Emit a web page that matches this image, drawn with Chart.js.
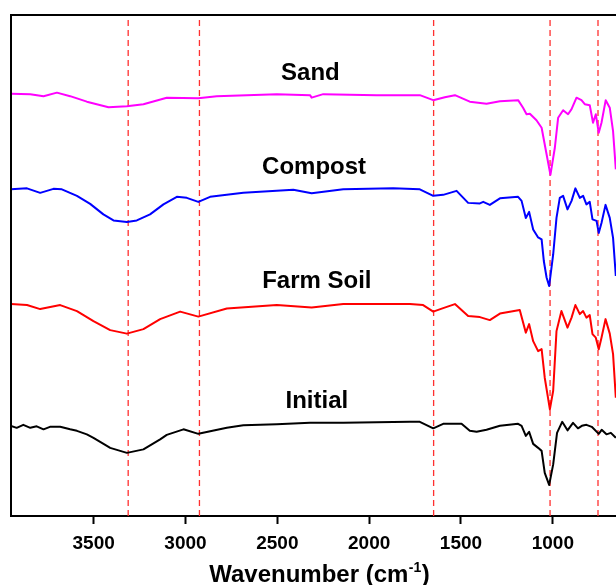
<!DOCTYPE html>
<html>
<head>
<meta charset="utf-8">
<script src="https://cdn.jsdelivr.net/npm/chart.js@4.4.1/dist/chart.umd.min.js"></script>
<style>
  html, body { margin: 0; padding: 0; background: #fff; }
</style>
</head>
<body>
<canvas id="ftir" width="616" height="585"></canvas>
<script>
// FTIR spectra, wavenumber (cm-1) vs offset transmittance (a.u.)
const seriesNames = ['Sand', 'Compost', 'Farm Soil', 'Initial'];
const seriesColors = ['#ff00ff', '#0000ff', '#ff0000', '#000000'];

const sandWn = [3950,3845,3773,3700,3628,3537,3419,3319,3229,3102,2930,2830,2503,2322,2313,2250,1959,1778,1724,1651,1588,1533,1452,1361,1288,1189,1162,1143,1125,1089,1061,1034,1013,989,971,944,917,898,871,844,826,799,781,766,750,735,712,690,672,657];
const sandT = [84.3,84.2,83.8,84.5,83.8,82.7,81.6,81.8,82.2,83.5,83.4,83.8,84.2,84.0,83.5,84.2,84.0,84.0,84.0,83.0,83.6,84.0,82.7,82.3,82.8,83.0,81.5,80.2,80.3,79.0,77.5,72.2,68.1,73.5,79.5,81.0,80.2,81.2,83.5,83.0,82.2,82.0,78.5,80.2,76.5,78.5,83.0,81.5,76.8,69.2];

const compostWn = [3950,3863,3791,3719,3673,3591,3519,3447,3392,3319,3265,3193,3120,3047,2993,2930,2866,2685,2413,2313,2141,1869,1724,1651,1597,1524,1461,1397,1379,1343,1288,1189,1170,1147,1129,1107,1080,1061,1049,1034,1020,998,980,962,944,920,898,877,853,835,817,799,784,762,750,735,713,690,672,657];
const compostT = [65.2,65.4,64.5,65.3,65.2,63.9,62.3,60.2,59.0,58.7,59.0,60.2,62.2,63.7,63.5,62.7,63.7,64.5,65.1,64.4,65.2,65.4,65.2,63.9,64.1,64.9,62.5,62.4,62.7,62.1,63.4,63.7,62.9,59.5,60.7,57.2,55.6,55.2,50.9,47.6,45.9,52.2,59.5,63.5,63.9,61.2,62.9,65.4,63.5,63.9,62.2,62.7,59.2,58.9,56.5,58.5,62.1,59.5,55.5,47.9];

const farmWn = [3950,3863,3791,3682,3591,3501,3410,3319,3229,3138,3029,2930,2775,2503,2313,2141,1778,1706,1651,1597,1533,1461,1397,1343,1288,1180,1147,1129,1107,1080,1061,1044,1016,998,980,953,920,898,877,853,835,817,799,784,766,750,735,713,690,672,657];
const farmT = [42.3,42.1,41.3,42.1,40.9,38.9,37.1,36.4,37.3,39.3,40.8,39.8,41.4,42.1,41.6,42.3,42.3,42.1,40.8,41.5,42.3,39.9,39.7,39.1,40.4,41.1,36.6,38.3,34.9,32.9,33.3,27.6,21.3,25.0,36.9,40.9,37.6,39.6,42.1,40.3,40.9,39.6,40.1,36.3,35.6,33.3,35.6,39.3,36.4,32.3,23.6];

const initialWn = [3950,3919,3883,3845,3810,3773,3738,3682,3628,3591,3537,3501,3428,3410,3319,3229,3138,3102,3011,2930,2775,2685,2503,2322,2141,1778,1724,1651,1597,1497,1452,1415,1361,1288,1189,1170,1147,1129,1107,1080,1061,1044,1020,998,977,949,920,890,863,842,817,788,750,734,708,684,657];
const initialT = [18.0,17.6,18.2,17.6,17.9,17.3,17.8,17.8,17.3,17.0,16.3,15.6,14.0,13.6,12.6,13.3,15.3,16.2,17.3,16.4,17.6,18.1,18.3,18.6,18.6,18.8,18.8,17.5,18.4,18.4,17.0,16.8,17.2,18.0,18.4,18.0,16.0,16.8,14.4,13.6,13.0,8.6,6.2,10.3,16.6,18.8,17.1,18.6,17.5,18.0,18.2,17.8,16.4,17.2,16.3,16.6,15.6];

// band positions marked with dashed lines
const markerWn = [3312, 2924, 1649, 1015, 754];
const tickValues = [3500, 3000, 2500, 2000, 1500, 1000];

// where the series names sit (wavenumber, a.u.)
const labelWn = [2320, 2300, 2285, 2285];
const labelY = [87.0, 68.3, 45.5, 21.6];

const FONT = '"Liberation Sans", Arial, sans-serif';

function pairs(wn, t) {
    return wn.map((w, i) => ({ x: w, y: t[i] }));
}

const spectra = [
    pairs(sandWn, sandT),
    pairs(compostWn, compostT),
    pairs(farmWn, farmT),
    pairs(initialWn, initialT)
];

const datasets = spectra.map((d, i) => ({
    label: seriesNames[i],
    data: d,
    borderColor: seriesColors[i],
    borderWidth: 2,
    pointRadius: 0,
    tension: 0,
    borderJoinStyle: 'round'
}));

markerWn.forEach(w => {
    datasets.push({
        label: 'marker ' + w,
        data: [{ x: w, y: 0 }, { x: w, y: 100 }],
        borderColor: '#ff3030',
        borderWidth: 1.3,
        borderDash: [6, 4],
        pointRadius: 0
    });
});

// frame, series names and the axis title with superscript
const decor = {
    id: 'decor',
    afterDraw(chart) {
        const { ctx, chartArea: a, scales: { x, y } } = chart;
        ctx.save();
        ctx.strokeStyle = '#000';
        ctx.lineWidth = 2;
        ctx.beginPath();
        ctx.moveTo(a.left, a.bottom);
        ctx.lineTo(a.left, a.top);
        ctx.lineTo(a.right, a.top);
        ctx.stroke();

        ctx.fillStyle = '#000';
        ctx.font = 'bold 24px ' + FONT;
        ctx.textAlign = 'center';
        ctx.textBaseline = 'alphabetic';
        seriesNames.forEach((n, i) => {
            ctx.fillText(n, x.getPixelForValue(labelWn[i]), y.getPixelForValue(labelY[i]));
        });

        // Wavenumber (cm-1)
        const big = 'bold 24px ' + FONT;
        const small = 'bold 14px ' + FONT;
        const p1 = 'Wavenumber (cm', p2 = '-1', p3 = ')';
        ctx.font = big;
        const w1 = ctx.measureText(p1).width, w3 = ctx.measureText(p3).width;
        ctx.font = small;
        const w2 = ctx.measureText(p2).width;
        let tx = 319 - (w1 + w2 + w3) / 2;
        const base = 582;
        ctx.textAlign = 'left';
        ctx.font = big;
        ctx.fillText(p1, tx, base);
        ctx.font = small;
        ctx.fillText(p2, tx + w1 + 0.5, base - 10);
        ctx.font = big;
        ctx.fillText(p3, tx + w1 + w2 + 1, base);
        ctx.restore();
    }
};

const chart = new Chart(document.getElementById('ftir'), {
    type: 'line',
    data: { datasets: datasets },
    options: {
        responsive: false,
        animation: false,
        layout: { padding: { left: 11, top: 15, right: 0, bottom: 0 } },
        plugins: { legend: { display: false }, tooltip: { enabled: false } },
        scales: {
            x: {
                type: 'linear',
                reverse: true,
                min: 656,
                max: 3950,
                afterBuildTicks: s => { s.ticks = tickValues.map(v => ({ value: v })); },
                afterFit: s => { s.height = 69; },
                grid: { drawOnChartArea: false, drawTicks: true, tickLength: 8, tickWidth: 2, tickColor: '#000' },
                border: { display: true, color: '#000', width: 2 },
                ticks: {
                    color: '#000',
                    padding: 8,
                    maxRotation: 0,
                    autoSkip: false,
                    font: { family: FONT, size: 19, weight: 'bold' },
                    callback: v => String(v)
                }
            },
            y: { display: false, min: 0, max: 100 }
        }
    },
    plugins: [decor]
});
</script>
</body>
</html>
